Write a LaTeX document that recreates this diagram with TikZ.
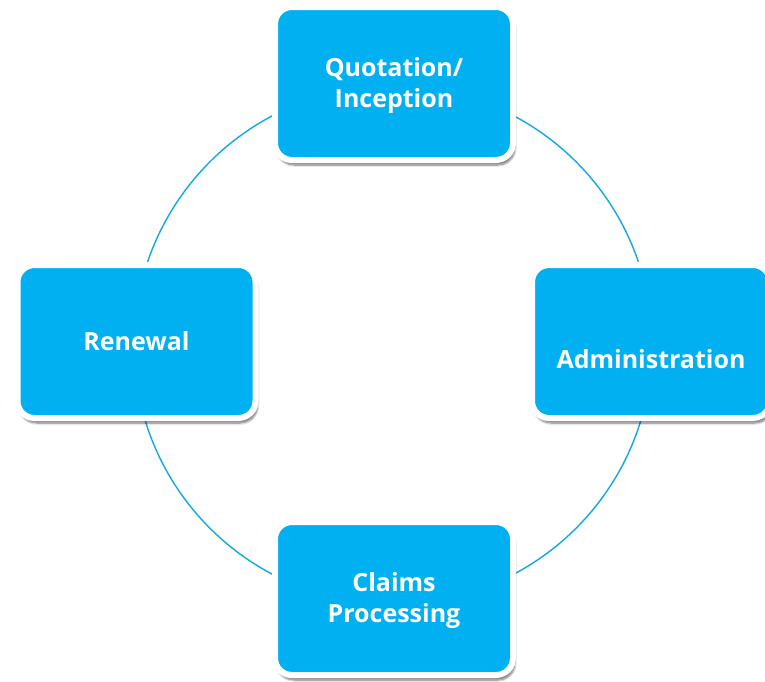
\documentclass[tikz,border=0pt]{standalone}
\usepackage{fontspec}
\setmainfont{Open Sans}
\usetikzlibrary{shadows.blur}
\definecolor{stageblue}{HTML}{00B0F0}
\definecolor{ringblue}{HTML}{12A8E4}
\tikzset{
  stage/.style={rectangle, rounded corners=17pt, fill=stageblue,
    draw=white, line width=6pt, minimum width=238pt, minimum height=153pt,
    text=white, align=center, inner sep=0pt,
    font=\fontsize{25}{31}\selectfont\bfseries,
    blur shadow={shadow xshift=2pt, shadow yshift=-5pt,
      shadow blur steps=8, shadow blur extra rounding=4pt, shadow opacity=55}},
  ring/.style={draw=ringblue, line width=1.4pt}
}
\begin{document}
\begin{tikzpicture}[x=1pt,y=-1pt]
\useasboundingbox (0,0) rectangle (765,681);
\coordinate (O) at (393,345);
\coordinate (Q) at (394,83.5);
\coordinate (A) at (651,341.5);
\coordinate (C) at (394,598.5);
\coordinate (R) at (136.5,341.5);

\draw[ring] (O) circle (259pt);

\node[stage] (quote) at (Q) {\\[-8pt]Quotation/\\Inception};
\node[stage, text height=54pt, text depth=0pt] (admin) at (A) {Administration};
\node[stage] (claims) at (C) {\\[-8pt]Claims\\Processing};
\node[stage] (renew) at (R) {Renewal};
\end{tikzpicture}
\end{document}
